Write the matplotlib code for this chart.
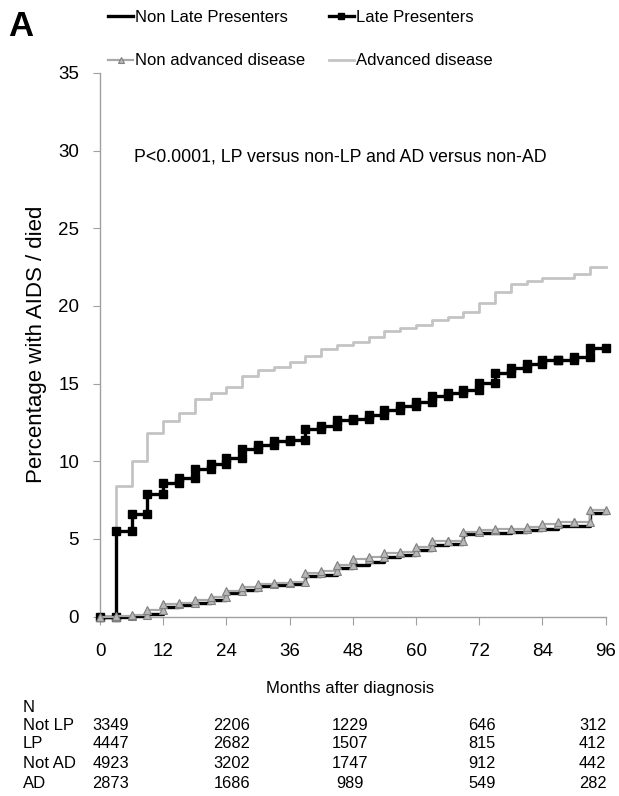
import matplotlib.pyplot as plt
import matplotlib.transforms as mtransforms
from matplotlib.lines import Line2D

plt.rcParams['font.family'] = ['Liberation Sans', 'DejaVu Sans']

# step start (months); each value holds until the next step
months = list(range(0, 96, 3))
end_month = 96

non_lp = [0, 0, 0.05, 0.2, 0.65, 0.75, 0.9, 1.05, 1.5, 1.7, 1.95, 2.05, 2.1, 2.6, 2.7, 3.1,
          3.3, 3.55, 3.87, 3.97, 4.3, 4.6, 4.7, 5.3, 5.36, 5.4, 5.47, 5.56, 5.67, 5.83, 5.83, 6.7]
lp = [0, 5.5, 6.6, 7.9, 8.6, 8.9, 9.5, 9.8, 10.2, 10.8, 11.05, 11.3, 11.4, 12.1, 12.3, 12.65,
      12.75, 13.0, 13.3, 13.55, 13.8, 14.2, 14.4, 14.6, 15.05, 15.7, 16.0, 16.25, 16.5, 16.55, 16.7, 17.3]
non_ad = [0, 0.05, 0.1, 0.43, 0.82, 0.9, 1.07, 1.25, 1.67, 1.93, 2.1, 2.19, 2.25, 2.8, 2.96, 3.3,
          3.69, 3.82, 4.12, 4.15, 4.5, 4.87, 4.9, 5.47, 5.6, 5.65, 5.65, 5.75, 5.96, 6.11, 6.11, 6.87]
ad = [0, 8.4, 10.0, 11.8, 12.6, 13.1, 14.0, 14.4, 14.8, 15.5, 15.9, 16.1, 16.4, 16.8, 17.2, 17.5,
      17.7, 18.0, 18.4, 18.6, 18.8, 19.1, 19.3, 19.6, 20.2, 20.9, 21.4, 21.6, 21.8, 21.8, 22.05, 22.5]

# numbers at risk
risk_months = [0, 24, 48, 72, 96]
risk_labels = ['Not LP', 'LP', 'Not AD', 'AD']
risk_not_lp = [3349, 2206, 1229, 646, 312]
risk_lp = [4447, 2682, 1507, 815, 412]
risk_not_ad = [4923, 3202, 1747, 912, 442]
risk_ad = [2873, 1686, 989, 549, 282]


def steps(t, v, end):
    xs, ys = [t[0]], [v[0]]
    for i in range(1, len(t)):
        xs += [t[i], t[i]]
        ys += [v[i - 1], v[i]]
    xs.append(end)
    ys.append(v[-1])
    return xs, ys


fig = plt.figure(figsize=(6.19, 7.96), dpi=100)
ax = fig.add_axes([0.1616, 0.2253, 0.8169, 0.6832])

x, y = steps(months, ad, end_month)
ax.plot(x, y, color='#c4c4c4', lw=2.0, clip_on=False, zorder=2)
x, y = steps(months, non_lp, end_month)
ax.plot(x, y, color='black', lw=2.4, clip_on=False, zorder=3)
x, y = steps(months, lp, end_month)
ax.plot(x, y, color='black', lw=2.4, marker='s', ms=6, clip_on=False, zorder=4)
x, y = steps(months, non_ad, end_month)
ax.plot(x, y, color='#a8a8a8', lw=1.6, marker='^', ms=5.5, mfc='#b8b8b8', mec='#808080',
        mew=0.8, clip_on=False, zorder=5)

ax.set_xlim(0, 96)
ax.set_ylim(0, 35)
ax.set_xticks(range(0, 97, 12))
ax.set_yticks(range(0, 36, 5))
for s in ['top', 'right']:
    ax.spines[s].set_visible(False)
for s in ['left', 'bottom']:
    ax.spines[s].set_color('#a0a0a0')
    ax.spines[s].set_linewidth(1.0)
ax.tick_params(axis='both', colors='#a0a0a0', labelcolor='black', labelsize=13.5, length=5)
ax.tick_params(axis='y', pad=10)
ax.tick_params(axis='x', pad=13, length=6)
ax.set_ylabel('Percentage with AIDS / died', fontsize=16, labelpad=8)

ax.text(6.5, 29.6, 'P<0.0001, LP versus non-LP and AD versus non-AD', fontsize=12.8, va='center')

fig.text(8 / 619, 1 - 26 / 796, 'A', fontsize=25, fontweight='bold', va='center')

handles = [
    Line2D([], [], color='black', lw=2.4),
    Line2D([], [], color='#a8a8a8', lw=1.6, marker='^', ms=5, mfc='#b8b8b8', mec='#808080', mew=0.8),
    Line2D([], [], color='black', lw=2.4, marker='s', ms=5.5),
    Line2D([], [], color='#c4c4c4', lw=2.0),
]
labels = ['Non Late Presenters', 'Non advanced disease', 'Late Presenters', 'Advanced disease']
fig.legend(handles, labels, loc='upper left', bbox_to_anchor=(108 / 619, 1 - 10 / 796), ncol=2,
           frameon=False, fontsize=12, handlelength=1.5, handletextpad=0.1, labelspacing=1.7,
           columnspacing=1.45, borderpad=0, borderaxespad=0, markerscale=0.9)

fig.text(350 / 619, 1 - 689 / 796, 'Months after diagnosis', fontsize=12, ha='center', va='center')

trans = mtransforms.blended_transform_factory(ax.transData, fig.transFigure)
row_y = [726, 744, 763, 783]
col_x = [2, 25, 47.5, 72.5, 93.5]
fig.text(23 / 619, 1 - 707 / 796, 'N', fontsize=12, va='center')
for label, vals, yy in zip(risk_labels, [risk_not_lp, risk_lp, risk_not_ad, risk_ad], row_y):
    fig.text(23 / 619, 1 - yy / 796, label, fontsize=12, va='center')
    for cx, v in zip(col_x, vals):
        fig.text(cx, 1 - yy / 796, str(v), fontsize=11.8, ha='center', va='center', transform=trans)

fig.savefig('out.png', dpi=100)
